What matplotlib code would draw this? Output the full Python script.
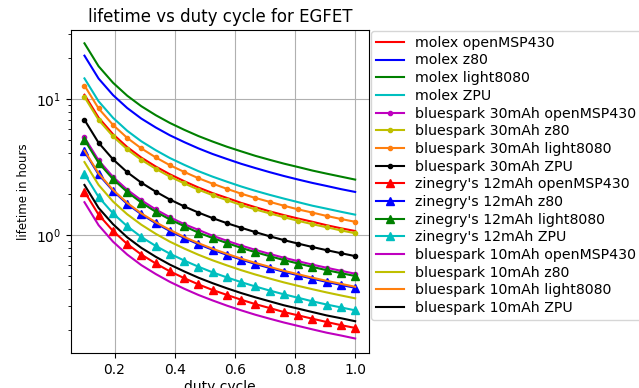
import matplotlib
matplotlib.use('Agg')
import matplotlib.pyplot as plt

# duty cycle (20 points, 0.1 .. 1.0)
duty = [0.1, 0.147, 0.195, 0.242, 0.289, 0.337, 0.384, 0.432, 0.479, 0.526,
        0.574, 0.621, 0.668, 0.716, 0.763, 0.811, 0.858, 0.905, 0.953, 1.0]

# lifetime in hours
molex_msp = [10.7, 7.26, 5.49, 4.42, 3.70, 3.18, 2.79, 2.48, 2.23, 2.03,
             1.87, 1.72, 1.60, 1.49, 1.40, 1.32, 1.25, 1.18, 1.12, 1.07]
molex_z80 = [20.7, 14.05, 10.63, 8.55, 7.15, 6.15, 5.39, 4.80, 4.32, 3.93,
             3.61, 3.33, 3.10, 2.89, 2.71, 2.55, 2.41, 2.29, 2.17, 2.07]
molex_light = [25.5, 17.30, 13.09, 10.53, 8.81, 7.57, 6.64, 5.91, 5.32, 4.85,
               4.44, 4.11, 3.81, 3.56, 3.34, 3.15, 2.97, 2.82, 2.68, 2.55]
molex_zpu = [14.1, 9.57, 7.24, 5.82, 4.87, 4.19, 3.67, 3.27, 2.94, 2.68,
             2.46, 2.27, 2.11, 1.97, 1.85, 1.74, 1.64, 1.56, 1.48, 1.41]

bs30_msp = [5.2, 3.53, 2.67, 2.15, 1.80, 1.54, 1.35, 1.20, 1.09, 0.988,
            0.906, 0.837, 0.778, 0.726, 0.681, 0.642, 0.606, 0.575, 0.546, 0.52]
bs30_z80 = [10.3, 6.99, 5.29, 4.25, 3.56, 3.06, 2.68, 2.39, 2.15, 1.96,
            1.80, 1.66, 1.54, 1.44, 1.35, 1.27, 1.20, 1.14, 1.08, 1.03]
bs30_light = [12.5, 8.48, 6.42, 5.16, 4.32, 3.71, 3.25, 2.90, 2.61, 2.38,
              2.18, 2.01, 1.87, 1.75, 1.64, 1.54, 1.46, 1.38, 1.31, 1.25]
bs30_zpu = [7.0, 4.75, 3.59, 2.89, 2.42, 2.08, 1.82, 1.62, 1.46, 1.33,
            1.22, 1.13, 1.05, 0.978, 0.917, 0.864, 0.816, 0.774, 0.735, 0.70]

zin_msp = [2.08, 1.41, 1.07, 0.859, 0.719, 0.618, 0.541, 0.482, 0.434, 0.395,
           0.363, 0.335, 0.311, 0.291, 0.272, 0.257, 0.243, 0.230, 0.218, 0.208]
zin_z80 = [4.1, 2.78, 2.11, 1.69, 1.42, 1.22, 1.07, 0.950, 0.856, 0.779,
           0.715, 0.660, 0.613, 0.573, 0.537, 0.506, 0.478, 0.453, 0.430, 0.41]
zin_light = [5.0, 3.39, 2.57, 2.07, 1.73, 1.48, 1.30, 1.16, 1.04, 0.95,
             0.872, 0.805, 0.748, 0.699, 0.655, 0.617, 0.583, 0.552, 0.525, 0.50]
zin_zpu = [2.8, 1.90, 1.44, 1.16, 0.967, 0.831, 0.729, 0.649, 0.585, 0.532,
           0.488, 0.451, 0.419, 0.391, 0.367, 0.346, 0.326, 0.309, 0.294, 0.28]

bs10_msp = [1.74, 1.18, 0.893, 0.719, 0.601, 0.517, 0.453, 0.403, 0.363, 0.331,
            0.303, 0.280, 0.260, 0.243, 0.228, 0.215, 0.203, 0.192, 0.183, 0.174]
bs10_z80 = [3.43, 2.33, 1.76, 1.42, 1.19, 1.02, 0.893, 0.795, 0.716, 0.652,
            0.598, 0.552, 0.513, 0.479, 0.449, 0.423, 0.400, 0.379, 0.360, 0.343]
bs10_light = [4.17, 2.83, 2.14, 1.72, 1.44, 1.24, 1.09, 0.966, 0.871, 0.792,
              0.727, 0.671, 0.624, 0.583, 0.546, 0.515, 0.486, 0.461, 0.438, 0.417]
bs10_zpu = [2.33, 1.58, 1.20, 0.962, 0.805, 0.692, 0.606, 0.540, 0.486, 0.443,
            0.406, 0.375, 0.349, 0.326, 0.305, 0.288, 0.272, 0.257, 0.245, 0.233]

ORANGE = '#ff7f0e'

fig = plt.figure(figsize=(6.39, 3.88), dpi=100)
ax = fig.add_axes([0.111, 0.090, 0.466, 0.833])

ax.plot(duty, molex_msp, 'r-', label='molex openMSP430')
ax.plot(duty, molex_z80, 'b-', label='molex z80')
ax.plot(duty, molex_light, 'g-', label='molex light8080')
ax.plot(duty, molex_zpu, 'c-', label='molex ZPU')

ax.plot(duty, bs30_msp, 'm.-', label='bluespark 30mAh openMSP430')
ax.plot(duty, bs30_z80, 'y.-', label='bluespark 30mAh z80')
ax.plot(duty, bs30_light, '.-', color=ORANGE, label='bluespark 30mAh light8080')
ax.plot(duty, bs30_zpu, 'k.-', label='bluespark 30mAh ZPU')

ax.plot(duty, zin_msp, 'r^-', label="zinegry's 12mAh openMSP430")
ax.plot(duty, zin_z80, 'b^-', label="zinegry's 12mAh z80")
ax.plot(duty, zin_light, 'g^-', label="zinegry's 12mAh light8080")
ax.plot(duty, zin_zpu, 'c^-', label="zinegry's 12mAh ZPU")

ax.plot(duty, bs10_msp, 'm-', label='bluespark 10mAh openMSP430')
ax.plot(duty, bs10_z80, 'y-', label='bluespark 10mAh z80')
ax.plot(duty, bs10_light, '-', color=ORANGE, label='bluespark 10mAh light8080')
ax.plot(duty, bs10_zpu, 'k-', label='bluespark 10mAh ZPU')

ax.set_yscale('log')
ax.set_ylim(0.136, 32)
ax.set_xlim(0.055, 1.045)
ax.grid(True)
ax.set_title('lifetime vs duty cycle for EGFET', fontsize=12)
ax.set_xlabel('duty cycle', fontsize=10, labelpad=2)
ax.set_ylabel('lifetime in hours', fontsize=8.5)
ax.tick_params(labelsize=10)

ax.legend(loc='upper left', bbox_to_anchor=(1.007, 0.997), borderaxespad=0,
          fontsize=10.2, labelspacing=0.26, borderpad=0.35)

fig.savefig('out.png', dpi=100)
